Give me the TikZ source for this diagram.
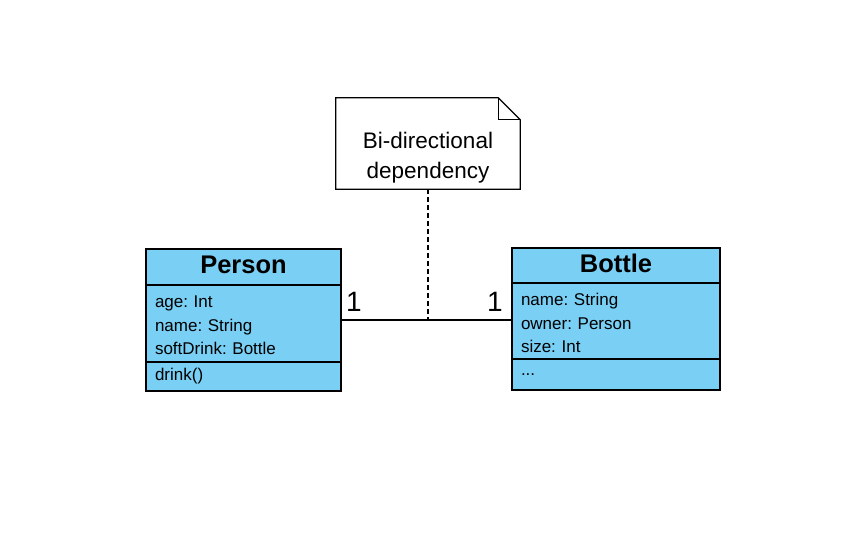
\documentclass[tikz,border=0pt]{standalone}
\usepackage{fontspec}
\setmainfont{Liberation Sans}
\usetikzlibrary{positioning}
\usetikzlibrary{calc}
\definecolor{ClassBlue}{HTML}{79CFF4}
\frenchspacing
\tikzset{
  umlpart/.style={draw,fill=ClassBlue,line width=1.2pt,inner sep=0pt,outer sep=0pt},
  classtitle/.style={umlpart,text depth=5pt,font=\fontsize{25.5}{28}\selectfont\bfseries},
  classbody/.style={umlpart,inner xsep=9pt,align=left,font=\fontsize{17}{23.5}\selectfont},
  multlabel/.style={inner sep=0pt,font=\fontsize{28}{30}\selectfont},
}
\begin{document}
\begin{tikzpicture}[x=1pt,y=-1pt]
  \useasboundingbox (0,0) rectangle (864,545);

  % Person class
  \node[classtitle,minimum width=195pt,minimum height=36pt] (person) at (243.5,267) {Person};
  \node[classbody,text width=177pt,minimum height=77pt,text height=16pt,below=0pt of person] (person attrs)
    {age: Int\\name: String\\softDrink: Bottle};
  \node[classbody,text width=177pt,minimum height=29pt,below=0pt of person attrs] (person ops)
    {drink()};

  % Bottle class
  \node[classtitle,minimum width=208pt,minimum height=35pt] (bottle) at (616,265.5) {Bottle};
  \node[classbody,text width=190pt,minimum height=76pt,text height=17pt,below=0pt of bottle] (bottle attrs)
    {name: String\\owner: Person\\size: Int};
  \node[classbody,text width=190pt,minimum height=31pt,below=0pt of bottle attrs] (bottle ops)
    {...};

  % note
  \node[minimum width=184pt,minimum height=91pt,
        label={[yshift=-14pt,align=center,font=\fontsize{22.5}{30}\selectfont]center:Bi-directional\\dependency}]
    (note) at (428,143.5) {};
  \draw[line width=1.2pt,line join=miter]
    (note.south west) -- (note.north west) -- ($(note.north east)+(-22pt,0pt)$)
    -- ($(note.north east)+(0pt,-22pt)$) -- (note.south east) -- cycle;
  \draw[line width=1.2pt]
    ($(note.north east)+(-22pt,0pt)$) -- ($(note.north east)+(-22pt,-22pt)$)
    -- ($(note.north east)+(0pt,-22pt)$);

  % association
  \coordinate (link) at (428,320);
  \draw[line width=1.2pt] (link -| person attrs.east) -- (link -| bottle attrs.west);
  \draw[line width=1.2pt,dash pattern=on 5pt off 3pt] (note.south) -- (link);

  \node[multlabel] (person mult) at (354,302) {1};
  \node[multlabel] (bottle mult) at (495,302) {1};
\end{tikzpicture}
\end{document}
